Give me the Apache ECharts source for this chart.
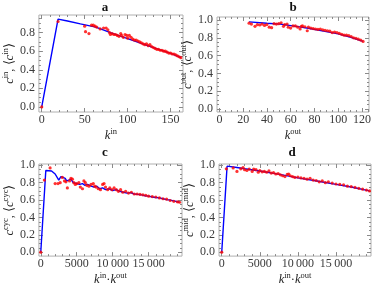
<!DOCTYPE html>
<html><head><meta charset="utf-8">
<script src="https://cdn.jsdelivr.net/npm/echarts@6/dist/echarts.min.js"></script>
<style>html,body{margin:0;padding:0;background:#fff}#c{width:374px;height:287px}</style>
</head><body><div id="c"></div>
<script>
// ---- Panel a ----
const aLineK = [0, 19, 30, 45, 63, 80, 100, 125, 151, 162];
const aLineC = [0.00, 0.945, 0.925, 0.895, 0.86, 0.80, 0.735, 0.655, 0.574, 0.532];
const aPtsK = [0,19,50,51,55,58,60,62,64,68,72,75,77,79,80,82,84,86,88,90,92,93,95,97,99,100,102,104,106,108,110,112,114,116,118,120,122,124,126,128,130,132,134,136,138,140,142,144,146,148,150,152,154,156,158,160,162];
const aPtsC = [0.00,0.92,0.87,0.81,0.79,0.88,0.88,0.87,0.86,0.84,0.85,0.85,0.83,0.80,0.78,0.79,0.78,0.78,0.77,0.76,0.79,0.77,0.75,0.78,0.77,0.74,0.77,0.75,0.73,0.72,0.72,0.71,0.70,0.69,0.68,0.67,0.68,0.66,0.67,0.65,0.64,0.63,0.62,0.62,0.61,0.61,0.60,0.60,0.59,0.58,0.58,0.57,0.57,0.56,0.55,0.54,0.53];
// ---- Panel b ----
const bLineK = [25, 40, 51, 65, 76, 90, 100, 110, 121];
const bLineC = [0.98, 0.965, 0.955, 0.93, 0.905, 0.87, 0.845, 0.81, 0.76];
const bPtsK = [25,27,30,32,34,36,38,40,42,44,46,48,50,52,54,55,57,58,60,62,64,66,68,69,70,72,74,75,77,79,81,83,85,87,89,91,93,95,97,99,101,103,105,107,109,111,113,115,117,119,121];
const bPtsC = [0.965,0.955,0.93,0.95,0.945,0.955,0.94,0.95,0.92,0.915,0.96,0.955,0.96,0.97,0.93,0.95,0.955,0.92,0.91,0.935,0.935,0.92,0.9,0.93,0.935,0.925,0.88,0.92,0.91,0.905,0.9,0.895,0.9,0.89,0.885,0.88,0.875,0.86,0.865,0.86,0.85,0.84,0.83,0.83,0.825,0.815,0.8,0.795,0.785,0.775,0.76];
// ---- Panel c ----
const cLineK = [0,700,1500,2000,2500,2800,3100,3400,3600,3900,4200,4500,5000,5400,5800,6100,6500,7000,7400,7800,8200,8600,9000,9500,10000,10500,11000,11500,12000,12500,13000,13500,14000,14500,15000,15500,16000,16500,17000,17500,18000,18500,19000,19300];
const cLineC = [0,0.94,0.935,0.90,0.83,0.87,0.86,0.85,0.82,0.83,0.84,0.80,0.79,0.78,0.79,0.77,0.78,0.76,0.75,0.76,0.73,0.74,0.72,0.73,0.71,0.72,0.70,0.69,0.68,0.685,0.67,0.665,0.66,0.65,0.645,0.635,0.63,0.625,0.615,0.605,0.60,0.59,0.58,0.575];
const cPtsK = [0,500,1300,2000,2400,2700,3000,3300,3500,3700,4000,4200,4400,4600,4800,5000,5300,5500,5800,6000,6200,6400,6700,7000,7300,7500,7700,8000,8300,8600,8800,9000,9300,9600,9900,10200,10500,10800,11100,11400,11800,12200,12600,13000,13400,13800,14200,14600,15000,15500,16000,16500,17000,17500,18000,18500,19000,19300];
const cPtsC = [0,0.83,0.97,0.79,0.79,0.80,0.86,0.82,0.81,0.74,0.82,0.85,0.84,0.80,0.78,0.79,0.80,0.75,0.73,0.82,0.80,0.77,0.76,0.78,0.79,0.76,0.75,0.73,0.72,0.78,0.79,0.75,0.72,0.74,0.72,0.74,0.72,0.70,0.72,0.69,0.70,0.68,0.69,0.67,0.67,0.665,0.66,0.655,0.645,0.64,0.635,0.625,0.615,0.61,0.595,0.585,0.58,0.575];
// ---- Panel d ----
const dLineK = [0,700,2000,3000,5000,7600,10000,12500,15000,17000,19400];
const dLineC = [0,0.99,0.975,0.96,0.935,0.895,0.855,0.82,0.78,0.75,0.706];
const dPtsK = [0,600,1500,2000,2500,2800,3000,3300,3600,4000,4200,4500,4800,5000,5300,5600,5900,6200,6500,6800,7100,7400,7700,8000,8300,8600,8800,9000,9300,9600,10000,10400,10800,11200,11600,12000,12400,12800,13200,13600,14000,14500,15000,15500,16000,16500,17000,17500,18000,18500,19000,19400];
const dPtsC = [0,0.96,0.97,0.93,0.96,0.975,0.95,0.94,0.955,0.93,0.955,0.95,0.92,0.94,0.925,0.93,0.92,0.935,0.91,0.915,0.90,0.905,0.89,0.88,0.87,0.895,0.90,0.88,0.87,0.86,0.865,0.855,0.85,0.84,0.85,0.83,0.825,0.81,0.82,0.80,0.81,0.795,0.785,0.78,0.775,0.76,0.755,0.745,0.735,0.725,0.715,0.705];
// ---- ticks ----
const aXTicks = [0,50,100,150];
const bXTicks = [0,20,40,60,80,100,120];
const cdXTicks = [0,5000,10000,15000];
const cdXLabels = ['0','5000','10\u2009000','15\u2009000'];
const aYTicks = [0,0.2,0.4,0.6,0.8];
const bcdYTicks = [0,0.2,0.4,0.6,0.8,1.0];
const titles = ['a','b','c','d'];

function range(a,b,s){const r=[];for(let v=a;v<=b+1e-9;v+=s)r.push(+v.toFixed(6));return r;}
const FONT='Liberation Serif';
const TICKC='#8a8a8a';
const rich={
  i:{fontFamily:FONT,fontStyle:'italic',fontSize:12.5,color:'#222',lineHeight:15,verticalAlign:'bottom'},
  n:{fontFamily:FONT,fontSize:12.5,color:'#222',lineHeight:15,verticalAlign:'bottom'},
  s:{fontFamily:FONT,fontSize:8.5,color:'#222',lineHeight:9,verticalAlign:'top'}
};
function mkAxes(dim,g,min,max,maj,mnr,fmt,name,nameGap){
  const pos = dim==='x'?['bottom','top']:['left','right'];
  const base={gridIndex:g,type:'value',min:min,max:max,axisLine:{show:false,onZero:false},splitLine:{show:false},minorTick:{show:false}};
  const out=[];
  pos.forEach((p,pi)=>{
    [maj,mnr].forEach((vals,vi)=>{
      const ax=Object.assign({},base,{position:p,
        axisTick:{show:true,inside:true,length:vi===0?4:2,customValues:vals,lineStyle:{color:TICKC,width:1}},
        axisLabel:{show:false}});
      if(pi===0&&vi===0){
        ax.axisLabel={show:true,customValues:maj,formatter:fmt,fontFamily:FONT,fontSize:12,color:'#3a3a3a',margin:dim==='x'?2:4};
        ax.name=name;ax.nameLocation='middle';ax.nameGap=nameGap;
        ax.nameTextStyle={fontFamily:FONT,rich:rich};
        if(dim==='y'){ax.nameRotate=90;}
      }
      out.push(ax);
    });
  });
  return out;
}
const fy=v=>v.toFixed(1);
const grids=[
  {left:29,top:15,width:154,height:97},
  {left:217,top:17,width:152,height:95},
  {left:29,top:164,width:153,height:95},
  {left:219,top:164,width:152,height:94}
];
const xAxes=[].concat(
  mkAxes('x',0,-3.3,164.5,aXTicks,range(0,160,10),v=>String(v),'{i|k}{s|in}',13),
  mkAxes('x',1,-2,126,bXTicks,range(0,125,5),v=>String(v),'{i|k}{s|out}',13),
  mkAxes('x',2,-260,19640,cdXTicks,range(0,19000,1000),v=>cdXLabels[cdXTicks.indexOf(v)],'{i|k}{s|in}{n|\u00b7}{i|k}{s|out}',13),
  mkAxes('x',3,-360,19600,cdXTicks,range(0,19000,1000),v=>cdXLabels[cdXTicks.indexOf(v)],'{i|k}{s|in}{n|\u00b7}{i|k}{s|out}',13)
);
const yAxes=[].concat(
  mkAxes('y',0,-0.055,0.99,aYTicks,range(0,0.95,0.05),fy,'{i|c}{s|in}{n|, \u27e8}{i|c}{s|in}{n|\u27e9}',22),
  mkAxes('y',1,-0.035,1.035,bcdYTicks,range(0,1.0,0.05),fy,'{i|c}{s|out}{n|, \u27e8}{i|c}{s|out}{n|\u27e9}',22),
  mkAxes('y',2,-0.045,1.015,bcdYTicks,range(0,1.0,0.05),fy,'{i|c}{s|cyc}{n|, \u27e8}{i|c}{s|cyc}{n|\u27e9}',22),
  mkAxes('y',3,-0.045,1.015,bcdYTicks,range(0,1.0,0.05),fy,'{i|c}{s|mid}{n|, \u27e8}{i|c}{s|mid}{n|\u27e9}',22)
);
const zip=(k,c)=>k.map((v,i)=>[v,c[i]]);
const lines=[zip(aLineK,aLineC),zip(bLineK,bLineC),zip(cLineK,cLineC),zip(dLineK,dLineC)];
const pts=[zip(aPtsK,aPtsC),zip(bPtsK,bPtsC),zip(cPtsK,cPtsC),zip(dPtsK,dPtsC)];
const series=[];
for(let g=0;g<4;g++){
  series.push({type:'line',xAxisIndex:4*g,yAxisIndex:4*g,data:lines[g],showSymbol:false,symbol:'none',
    lineStyle:{color:'#0000ff',width:1.4},z:2,silent:true,animation:false});
  series.push({type:'scatter',xAxisIndex:4*g,yAxisIndex:4*g,data:pts[g],symbol:'circle',symbolSize:3.2,
    itemStyle:{color:'#ff0000'},z:3,silent:true,animation:false});
}
const titlePos=[[105,8],[293,8],[105,153],[292,153]];
const graphic=titles.map((t,i)=>({type:'text',x:titlePos[i][0],y:titlePos[i][1],
  style:{text:t,font:'bold 13px "Liberation Serif"',fill:'#111',align:'center',verticalAlign:'middle'}}));
const chart=echarts.init(document.getElementById('c'),null,{renderer:'canvas'});
chart.setOption({
  animation:false,
  backgroundColor:'#fff',
  textStyle:{fontFamily:FONT},
  grid:grids.map(g=>Object.assign({show:true,borderColor:'#b0b0b0',borderWidth:1,backgroundColor:'transparent',containLabel:false},g)),
  xAxis:xAxes,
  yAxis:yAxes,
  series:series,
  graphic:graphic
});
</script></body></html>
